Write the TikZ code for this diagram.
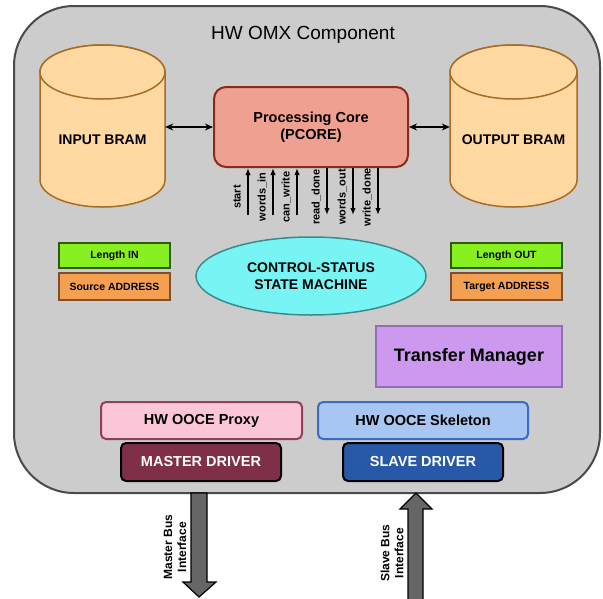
\documentclass[tikz,border=0pt]{standalone}
\usepackage{fontspec}
\setmainfont{Liberation Sans}
\usetikzlibrary{arrows.meta,shapes.geometric}

\definecolor{omxfill}{HTML}{CCCCCC}
\definecolor{omxline}{HTML}{4A4A4A}
\definecolor{bramfill}{HTML}{FFD8A2}
\definecolor{bramline}{HTML}{A86C24}
\definecolor{corefill}{HTML}{F0A090}
\definecolor{coreline}{HTML}{8B2A1A}
\definecolor{fsmfill}{HTML}{78F4F4}
\definecolor{fsmline}{HTML}{3A8C8C}
\definecolor{lenfill}{HTML}{88F020}
\definecolor{lenline}{HTML}{2E5A10}
\definecolor{addrfill}{HTML}{F5A050}
\definecolor{addrline}{HTML}{7A5030}
\definecolor{tmfill}{HTML}{CC99EE}
\definecolor{tmline}{HTML}{9070B0}
\definecolor{proxyfill}{HTML}{FBC7D8}
\definecolor{proxyline}{HTML}{904058}
\definecolor{skelfill}{HTML}{A8C6F2}
\definecolor{skelline}{HTML}{3A6CC0}
\definecolor{masterfill}{HTML}{7F3048}
\definecolor{slavefill}{HTML}{2858A8}
\definecolor{busfill}{HTML}{666666}

\begin{document}
\begin{tikzpicture}[
        x=1pt, y=-1pt,
        every node/.style={align=center, inner sep=0pt},
        bram/.style={draw=bramline, fill=bramfill, line width=1.5pt},
        bramtext/.style={font=\fontsize{14}{17}\selectfont\bfseries, minimum width=125pt},
        core/.style={draw=coreline, fill=corefill, line width=2pt, rounded corners=12pt,
            minimum width=194pt, minimum height=80pt, font=\fontsize{14.5}{17}\selectfont\bfseries},
        fsm/.style={ellipse, draw=fsmline, fill=fsmfill, line width=1.5pt,
            minimum width=230pt, minimum height=78pt, font=\fontsize{14}{17}\selectfont\bfseries},
        tag/.style={line width=2pt, minimum width=111pt, font=\fontsize{10.5}{12}\selectfont\bfseries},
        lenbox/.style={tag, draw=lenline, fill=lenfill, minimum height=25pt},
        addrbox/.style={tag, draw=addrline, fill=addrfill, minimum height=27pt},
        ooce/.style={line width=2pt, rounded corners=5pt, minimum height=37pt,
            font=\fontsize{14.5}{17}\selectfont\bfseries},
        driver/.style={draw=black, line width=2pt, rounded corners=5pt, minimum width=160pt,
            minimum height=38pt, text=white, font=\fontsize{14.5}{17}\selectfont\bfseries},
        link/.style={{Stealth[length=8pt,width=7pt]}-{Stealth[length=8pt,width=7pt]}, line width=1.2pt},
        sig/.style={-{Latex[length=7pt,width=5.5pt]}, line width=1.5pt},
        siglabel/.style={rotate=90, anchor=base, font=\fontsize{11}{13}\selectfont\bfseries},
        bus/.style={draw=black, fill=busfill, line width=1.2pt},
        buslabel/.style={rotate=90, font=\fontsize{12}{14}\selectfont\bfseries}
    ]
    \useasboundingbox (0,0) rectangle (603,598);
    \node[draw=omxline, fill=omxfill, line width=2pt, rounded corners=60pt,
        minimum width=586pt, minimum height=487pt] (omx) at (307,249.5) {};
    \node[font=\fontsize{19}{22}\selectfont] (title) at (303,35) {HW OMX Component};

    \draw[bram] (40,72) -- (40,180) arc[start angle=180, end angle=360, x radius=62.5pt, y radius=27pt]
        -- (165,72) arc[start angle=0, end angle=180, x radius=62.5pt, y radius=27pt] -- cycle;
    \draw[bram] (102.5,72) ellipse[x radius=62.5pt, y radius=27pt];
    \draw[bram] (450,72) -- (450,180) arc[start angle=180, end angle=360, x radius=63.5pt, y radius=27pt]
        -- (577,72) arc[start angle=0, end angle=180, x radius=63.5pt, y radius=27pt] -- cycle;
    \draw[bram] (513.5,72) ellipse[x radius=63.5pt, y radius=27pt];
    \node[bramtext] (inbram) at (102.5,140) {INPUT BRAM};
    \node[bramtext, minimum width=127pt] (outbram) at (513.5,140) {OUTPUT BRAM};

    \node[core] (core) at (311,127) {Processing Core\\(PCORE)};
    \draw[link] (inbram.east |- core.west) -- (core.west);
    \draw[link] (core.east) -- (core.east -| outbram.west);

    \node[fsm] (fsm) at (311,276) {CONTROL-STATUS\\STATE MACHINE};

    \foreach \x/\sig in {248/start, 273/words\_in, 297/can\_write} {
        \coordinate (s\x) at (\x,215);
        \draw[sig] (s\x) -- (s\x |- core.south);
        \node[siglabel] at (\x-7.5,197) {\sig};
    }
    \foreach \x/\sig in {327/read\_done, 353/words\_out, 378/write\_done} {
        \coordinate (s\x) at (\x,215);
        \draw[sig] (s\x |- core.south) -- (s\x);
        \node[siglabel] at (\x-7.5,197) {\sig};
    }

    \node[lenbox] (lenin) at (114.5,255.5) {Length IN};
    \node[addrbox] (srcaddr) at (114.5,286.5) {Source ADDRESS};
    \node[lenbox] (lenout) at (506.5,255.5) {Length OUT};
    \node[addrbox] (tgtaddr) at (506.5,286.5) {Target ADDRESS};

    \node[draw=tmline, fill=tmfill, line width=2pt, minimum width=186pt, minimum height=61pt,
        font=\fontsize{18}{21}\selectfont\bfseries] (tm) at (469,356.5) {Transfer Manager};

    \node[ooce, draw=proxyline, fill=proxyfill, minimum width=201pt] (proxy) at (201.5,420.5) {HW OOCE Proxy};
    \node[ooce, draw=skelline, fill=skelfill, minimum width=210pt] (skel) at (423,420.5) {HW OOCE Skeleton};
    \node[driver, fill=masterfill] (mdrv) at (201,462) {MASTER DRIVER};
    \node[driver, fill=slavefill] (sdrv) at (423,462) {SLAVE DRIVER};

    \draw[bus] (191,493) -- (207,493) -- (207,582) -- (216,582) -- (199,597) -- (183,582) -- (191,582) -- cycle;
    \draw[bus] (408,600) -- (408,509) -- (400,509) -- (416,493) -- (432,509) -- (423,509) -- (423,600);
    \node[buslabel] (mbus) at (175,547) {Master Bus\\Interface};
    \node[buslabel] (sbus) at (392,553) {Slave Bus\\Interface};
\end{tikzpicture}
\end{document}
